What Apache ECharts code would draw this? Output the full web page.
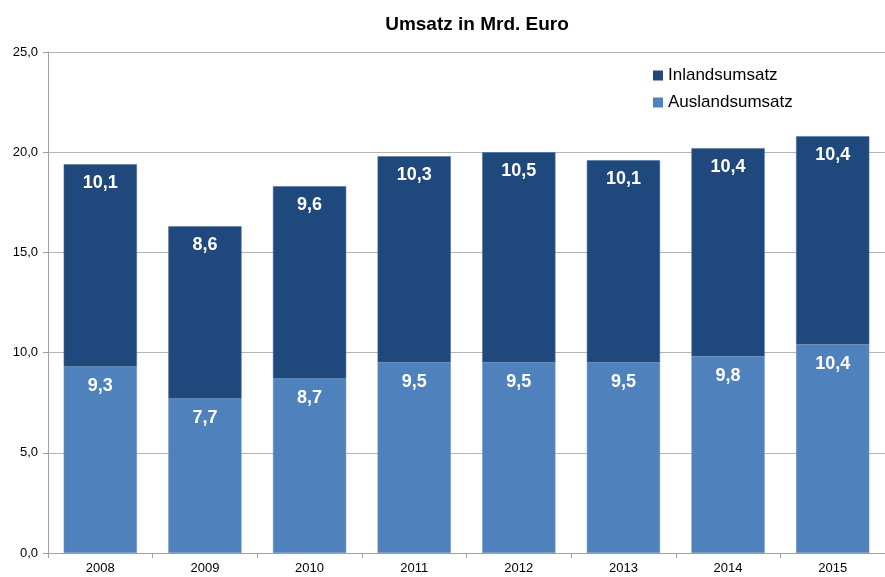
<!DOCTYPE html>
<html>
<head>
<meta charset="utf-8">
<script src="https://cdn.jsdelivr.net/npm/echarts@6/dist/echarts.min.js"></script>
<style>
  html, body { margin: 0; padding: 0; background: #fff; }
  #chart { width: 885px; height: 577px; }
</style>
</head>
<body>
<div id="chart"></div>
<script>
// Turnover in billion euros, split into domestic and foreign sales
const years = ['2008', '2009', '2010', '2011', '2012', '2013', '2014', '2015'];
const auslandsumsatz = [9.3, 7.7, 8.7, 9.5, 9.5, 9.5, 9.8, 10.4];
const inlandsumsatz = [10.1, 8.6, 9.6, 10.3, 10.5, 10.1, 10.4, 10.4];
const yTicks = [0, 5, 10, 15, 20, 25];

const fmt = v => v.toFixed(1).replace('.', ',');
const font = '"Liberation Sans", Arial, sans-serif';

const chart = echarts.init(document.getElementById('chart'), null, { renderer: 'canvas' });

const labelStyle = {
  show: true,
  position: 'insideTop',
  distance: 10,
  color: '#ffffff',
  fontFamily: font,
  fontWeight: 'bold',
  fontSize: 18,
  formatter: p => fmt(p.value)
};

chart.setOption({
  animation: false,
  title: {
    text: 'Umsatz in Mrd. Euro',
    left: 472,
    top: 10,
    textAlign: 'center',
    textStyle: { fontFamily: font, fontWeight: 'bold', fontSize: 19, color: '#000' }
  },
  legend: {
    orient: 'vertical',
    left: 648,
    top: 62,
    itemWidth: 10,
    itemHeight: 10,
    itemGap: 10,
    icon: 'rect',
    itemStyle: { borderWidth: 0 },
    data: ['Inlandsumsatz', 'Auslandsumsatz'],
    textStyle: { fontFamily: font, fontSize: 17, color: '#000' }
  },
  grid: { left: 48, right: -12, top: 52, bottom: 24, containLabel: false },
  xAxis: {
    type: 'category',
    data: years,
    axisLine: { lineStyle: { color: '#a0a0a0' } },
    axisTick: { show: true, alignWithLabel: false, length: 5, lineStyle: { color: '#a0a0a0' } },
    axisLabel: { fontFamily: font, fontSize: 13, color: '#000', margin: 9 }
  },
  yAxis: {
    type: 'value',
    min: yTicks[0],
    max: yTicks[yTicks.length - 1],
    interval: 5,
    axisLine: { show: true, lineStyle: { color: '#a0a0a0' } },
    axisTick: { show: true, length: 5, lineStyle: { color: '#a0a0a0' } },
    axisLabel: { fontFamily: font, fontSize: 13, color: '#000', margin: 10, formatter: v => fmt(v) },
    splitLine: { lineStyle: { color: '#b4b4b4' } }
  },
  series: [
    {
      name: 'Auslandsumsatz',
      type: 'bar',
      stack: 'total',
      data: auslandsumsatz,
      barCategoryGap: '30%',
      itemStyle: { color: '#4f81bd', borderColor: '#6f97c9', borderWidth: 0.5 },
      label: labelStyle
    },
    {
      name: 'Inlandsumsatz',
      type: 'bar',
      stack: 'total',
      data: inlandsumsatz,
      barCategoryGap: '30%',
      itemStyle: { color: '#1f497d', borderColor: '#4a6d99', borderWidth: 0.5 },
      label: labelStyle
    }
  ]
});
</script>
</body>
</html>
